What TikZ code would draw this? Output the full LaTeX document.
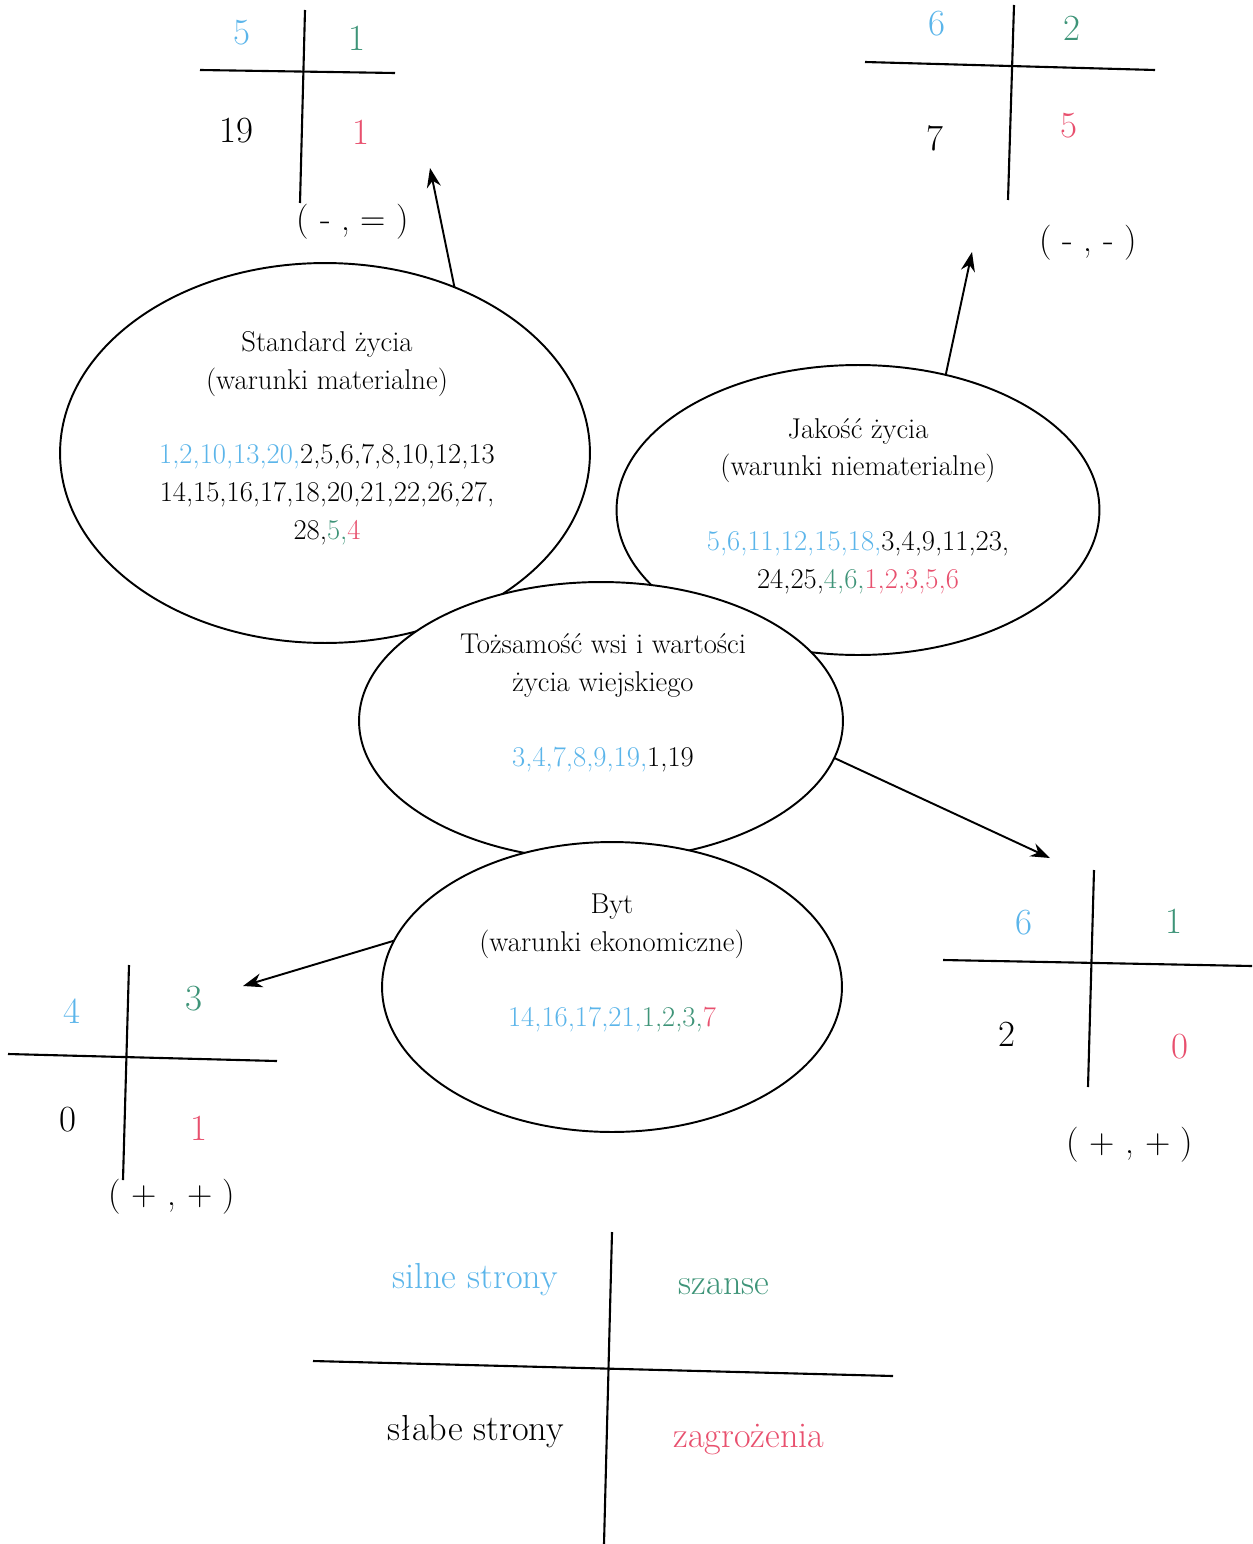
\documentclass[tikz,border=0pt]{standalone}
\usepackage{fontspec}
\usepackage{xcolor}
\usepackage{tikz}
\usetikzlibrary{shapes.geometric,arrows.meta}
\definecolor{sblue}{HTML}{5BB5EA}
\definecolor{sgreen}{HTML}{3E9478}
\definecolor{spink}{HTML}{E8506E}
\tikzset{
	blob/.style={draw, ellipse, fill=white, line width=1.1pt, outer sep=0pt, inner sep=0pt},
	arr/.style={-{Stealth[length=11pt,width=8pt]}, line width=1.1pt},
	cross/.style={line width=1.2pt},
	inside/.style={align=center, font=\fontsize{16.3}{21.5}\selectfont},
	qnum/.style={font=\fontsize{21}{25}\selectfont},
	sign/.style={font=\fontsize{20}{24}\selectfont},
	legend/.style={font=\fontsize{20.6}{24}\selectfont}
}

\begin{document}
\begin{tikzpicture}[x=0.02cm,y=-0.02cm]
	\useasboundingbox (0,0) rectangle (1252,1544);
	% ellipses
	\node[blob, minimum width=10.6cm, minimum height=7.6cm] (std) at (325,453) {};
	\node[blob, minimum width=9.66cm, minimum height=5.8cm] (jak) at (858,510) {};
	\node[blob, minimum width=9.68cm, minimum height=5.56cm] (toz) at (601,721) {};
	\node[blob, minimum width=9.2cm, minimum height=5.8cm] (byt) at (612,987) {};
	\node[inside] (stdtxt) at (327,438) {Standard życia\\(warunki materialne)\\[21pt]\textcolor{sblue}{1,2,10,13,20,}2,5,6,7,8,10,12,13\\14,15,16,17,18,20,21,22,26,27,\\28,\textcolor{sgreen}{5,}\textcolor{spink}{4}};
	\node[inside] (jaktxt) at (858,506) {Jakość życia\\(warunki niematerialne)\\[21pt]\textcolor{sblue}{5,6,11,12,15,18,}3,4,9,11,23,\\24,25,\textcolor{sgreen}{4,6,}\textcolor{spink}{1,2,3,5,6}};
	\node[inside] (toztxt) at (603,703) {Tożsamość wsi i wartości\\życia wiejskiego\\[21pt]\textcolor{sblue}{3,4,7,8,9,19,}1,19};
	\node[inside] (byttxt) at (612,963) {Byt\\(warunki ekonomiczne)\\[21pt]\textcolor{sblue}{14,16,17,21,}\textcolor{sgreen}{1,2,3,}\textcolor{spink}{7}};
	% arrows
	\coordinate (stdtip) at (430,168);
	\coordinate (jaktip) at (972,252);
	\coordinate (toztip) at (1050,858);
	\coordinate (byttip) at (243,986);
	\draw[arr] (std.52) -- (stdtip);
	\draw[arr] (jak.57) -- (jaktip);
	\draw[arr] (toz.-9) -- (toztip);
	\draw[arr] (byt.168) -- (byttip);
	% cross: top left
	\draw[cross] (200,70) -- (395,73);
	\draw[cross] (305,10) -- (300,203);
	\node[qnum, sblue] (tls) at (242,33) {5};
	\node[qnum, sgreen] (tlo) at (357,38) {1};
	\node[qnum] (tlw) at (236,131) {19};
	\node[qnum, spink] (tlt) at (361,132) {1};
	\node[sign] (tlsign) at (353,222) {( - , = )};
	% cross: top right
	\draw[cross] (865,62) -- (1155,70);
	\draw[cross] (1014,5) -- (1008,200);
	\node[qnum, sblue] (trs) at (937,24) {6};
	\node[qnum, sgreen] (tro) at (1072,28) {2};
	\node[qnum] (trw) at (935,138) {7};
	\node[qnum, spink] (trt) at (1069,126) {5};
	\node[sign] (trsign) at (1088,243) {( - , - )};
	% cross: right
	\draw[cross] (943,960) -- (1252,966);
	\draw[cross] (1094,870) -- (1088,1087);
	\node[qnum, sblue] (rs) at (1024,923) {6};
	\node[qnum, sgreen] (ro) at (1174,921) {1};
	\node[qnum] (rw) at (1007,1034) {2};
	\node[qnum, spink] (rt) at (1180,1047) {0};
	\node[sign] (rsign) at (1130,1145) {( + , + )};
	% cross: bottom left
	\draw[cross] (8,1054) -- (277,1061);
	\draw[cross] (129,965) -- (123,1180);
	\node[qnum, sblue] (bls) at (72,1011) {4};
	\node[qnum, sgreen] (blo) at (194,999) {3};
	\node[qnum] (blw) at (68,1120) {0};
	\node[qnum, spink] (blt) at (199,1128) {1};
	\node[sign] (blsign) at (172,1197) {( + , + )};
	% legend
	\draw[cross] (313,1361) -- (893,1376);
	\draw[cross] (612,1232) -- (604,1544);
	\node[legend, sblue] (lgs) at (475,1280) {silne strony};
	\node[legend, sgreen] (lgo) at (724,1287) {szanse};
	\node[legend] (lgw) at (476,1432) {słabe strony};
	\node[legend, spink] (lgt) at (749,1440) {zagrożenia};
\end{tikzpicture}
\end{document}
